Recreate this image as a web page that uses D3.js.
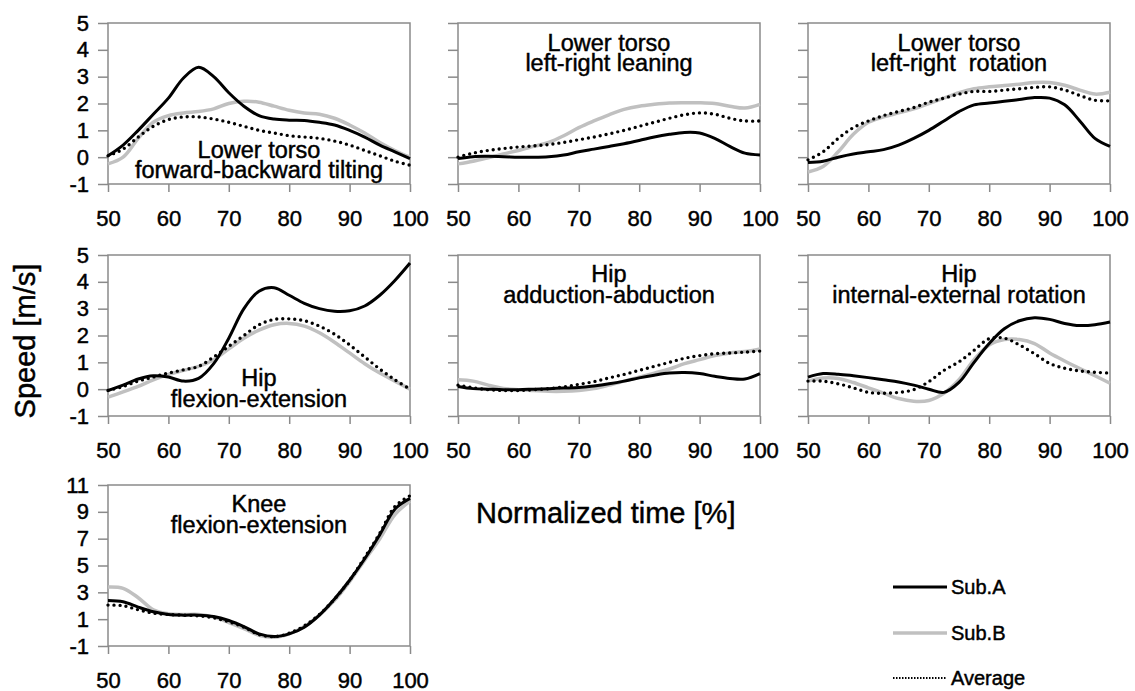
<!DOCTYPE html>
<html>
<head>
<meta charset="utf-8">
<script src="https://cdn.jsdelivr.net/npm/d3@7"></script>
<style>
  body { margin: 0; background: #fff; }
  svg { font-family: "Liberation Sans", Arial, sans-serif; }
  svg text { fill: #000; stroke: #000; stroke-width: 0.45px; }
  .frame { fill: none; stroke: #8a8a8a; stroke-width: 1.5px; }
  .tick line { stroke: #8a8a8a; stroke-width: 1.5px; }
  .tick text { font-size: 22px; }
  .title { font-size: 23.5px; text-anchor: middle; white-space: pre; }
</style>
</head>
<body>
<svg id="chart" width="1135" height="691"></svg>
<script>
// normalized time points
const times = [50, 52.5, 55, 57.5, 60, 62.5, 65, 67.5, 70, 72.5, 75, 77.5, 80, 82.5, 85, 87.5, 90, 92.5, 95, 97.5, 100];

// lower torso forward-backward tilting
const tiltA   = [0.05, 0.45, 1.0, 1.6, 2.2, 2.95, 3.35, 3.0, 2.4, 1.9, 1.55, 1.42, 1.38, 1.37, 1.3, 1.2, 1.0, 0.75, 0.45, 0.2, -0.05];
const tiltB   = [-0.25, 0.0, 0.7, 1.3, 1.55, 1.65, 1.7, 1.8, 2.0, 2.08, 2.05, 1.9, 1.75, 1.65, 1.6, 1.45, 1.2, 0.9, 0.55, 0.25, 0.0];
const tiltAvg = [0.05, 0.3, 0.75, 1.15, 1.4, 1.5, 1.5, 1.42, 1.3, 1.15, 1.0, 0.9, 0.8, 0.75, 0.7, 0.6, 0.45, 0.25, 0.05, -0.15, -0.3];

// lower torso left-right leaning
const leanA   = [-0.05, 0.02, 0.03, 0.02, 0.0, 0.0, 0.02, 0.08, 0.2, 0.3, 0.4, 0.5, 0.62, 0.75, 0.85, 0.92, 0.9, 0.7, 0.4, 0.15, 0.08];
const leanB   = [-0.25, -0.15, -0.02, 0.12, 0.25, 0.4, 0.55, 0.8, 1.1, 1.35, 1.58, 1.78, 1.9, 1.97, 2.02, 2.03, 2.03, 2.0, 1.9, 1.83, 1.97];
const leanAvg = [0.0, 0.15, 0.25, 0.32, 0.38, 0.42, 0.47, 0.55, 0.65, 0.75, 0.87, 1.0, 1.15, 1.3, 1.45, 1.58, 1.65, 1.6, 1.45, 1.35, 1.35];

// lower torso left-right rotation
const rotA   = [-0.2, -0.15, 0.0, 0.12, 0.2, 0.28, 0.45, 0.7, 1.0, 1.35, 1.7, 1.95, 2.02, 2.08, 2.15, 2.22, 2.2, 1.95, 1.35, 0.7, 0.4];
const rotB   = [-0.55, -0.35, 0.2, 0.85, 1.3, 1.5, 1.65, 1.8, 2.0, 2.2, 2.4, 2.55, 2.62, 2.67, 2.72, 2.78, 2.78, 2.68, 2.5, 2.35, 2.42];
const rotAvg = [-0.1, 0.2, 0.7, 1.1, 1.35, 1.55, 1.7, 1.85, 2.05, 2.2, 2.35, 2.45, 2.45, 2.5, 2.55, 2.6, 2.62, 2.5, 2.3, 2.12, 2.1];

// hip flexion-extension
const hipFlexA   = [-0.05, 0.15, 0.38, 0.5, 0.45, 0.3, 0.4, 0.95, 1.9, 3.0, 3.65, 3.78, 3.5, 3.2, 3.0, 2.9, 2.92, 3.1, 3.5, 4.05, 4.7];
const hipFlexB   = [-0.3, -0.1, 0.1, 0.35, 0.55, 0.7, 0.85, 1.1, 1.5, 1.9, 2.2, 2.4, 2.45, 2.35, 2.1, 1.75, 1.35, 0.95, 0.6, 0.3, 0.0];
const hipFlexAvg = [-0.05, 0.1, 0.3, 0.45, 0.6, 0.72, 0.85, 1.2, 1.6, 2.0, 2.4, 2.6, 2.62, 2.55, 2.35, 2.05, 1.65, 1.2, 0.75, 0.35, 0.0];

// hip adduction-abduction
const hipAddA   = [0.1, 0.02, 0.0, -0.02, -0.02, 0.0, 0.02, 0.04, 0.06, 0.12, 0.2, 0.3, 0.42, 0.52, 0.6, 0.62, 0.58, 0.48, 0.4, 0.38, 0.58];
const hipAddB   = [0.35, 0.3, 0.15, 0.03, -0.02, -0.05, -0.08, -0.08, -0.05, 0.02, 0.15, 0.3, 0.45, 0.6, 0.75, 0.95, 1.1, 1.25, 1.35, 1.4, 1.5];
const hipAddAvg = [0.15, 0.05, -0.02, -0.05, -0.05, -0.02, 0.02, 0.08, 0.18, 0.28, 0.42, 0.55, 0.7, 0.85, 1.0, 1.15, 1.25, 1.32, 1.35, 1.38, 1.42];

// hip internal-external rotation
const hipRotA   = [0.45, 0.58, 0.56, 0.5, 0.43, 0.35, 0.27, 0.15, 0.0, -0.12, 0.25, 1.0, 1.7, 2.25, 2.55, 2.66, 2.6, 2.45, 2.37, 2.4, 2.5];
const hipRotB   = [0.3, 0.42, 0.4, 0.25, 0.05, -0.15, -0.35, -0.45, -0.42, -0.15, 0.35, 1.1, 1.65, 1.85, 1.85, 1.7, 1.35, 1.05, 0.77, 0.5, 0.22];
const hipRotAvg = [0.3, 0.3, 0.2, 0.05, -0.12, -0.15, -0.12, -0.02, 0.28, 0.7, 1.02, 1.45, 1.88, 1.9, 1.65, 1.32, 0.96, 0.78, 0.68, 0.63, 0.6];

// knee flexion-extension
const kneeA   = [2.4, 2.3, 1.9, 1.55, 1.35, 1.3, 1.3, 1.2, 0.9, 0.45, -0.1, -0.3, -0.1, 0.4, 1.3, 2.5, 3.9, 5.5, 7.3, 9.2, 10.0];
const kneeB   = [3.4, 3.3, 2.6, 1.7, 1.4, 1.35, 1.35, 1.15, 0.75, 0.3, -0.2, -0.35, -0.1, 0.45, 1.3, 2.4, 3.8, 5.4, 7.0, 8.8, 9.8];
const kneeAvg = [2.05, 2.0, 1.7, 1.45, 1.35, 1.3, 1.25, 1.1, 0.8, 0.4, -0.15, -0.3, -0.05, 0.5, 1.35, 2.5, 3.9, 5.6, 7.4, 9.4, 10.2];

const xTicks = [50, 60, 70, 80, 90, 100];
const yTicksSmall = [-1, 0, 1, 2, 3, 4, 5];
const yTicksKnee = [-1, 1, 3, 5, 7, 9, 11];

const seriesNames = ["Sub.A", "Sub.B", "Average"];

const panels = [
  { title: ["Lower torso", "forward-backward tilting"], a: tiltA, b: tiltB, avg: tiltAvg, col: 0, row: 0, ticks: yTicksSmall, titleY: [135, 155] },
  { title: ["Lower torso", "left-right leaning"], a: leanA, b: leanB, avg: leanAvg, col: 1, row: 0, ticks: yTicksSmall, titleY: [28, 48] },
  { title: ["Lower torso", "left-right  rotation"], a: rotA, b: rotB, avg: rotAvg, col: 2, row: 0, ticks: yTicksSmall, titleY: [28, 48] },
  { title: ["Hip", "flexion-extension"], a: hipFlexA, b: hipFlexB, avg: hipFlexAvg, col: 0, row: 1, ticks: yTicksSmall, titleY: [131, 152] },
  { title: ["Hip", "adduction-abduction"], a: hipAddA, b: hipAddB, avg: hipAddAvg, col: 1, row: 1, ticks: yTicksSmall, titleY: [27, 48] },
  { title: ["Hip", "internal-external rotation"], a: hipRotA, b: hipRotB, avg: hipRotAvg, col: 2, row: 1, ticks: yTicksSmall, titleY: [27, 48] },
  { title: ["Knee", "flexion-extension"], a: kneeA, b: kneeB, avg: kneeAvg, col: 0, row: 2, ticks: yTicksKnee, titleY: [27, 48] }
];

const colLeft = [108, 458, 808];
const rowTop = [23, 255, 485];
const pw = 302, ph = 161;

const styles = {
  b:   { stroke: "#c0c0c0", width: 3.5, dash: null },
  a:   { stroke: "#000", width: 3, dash: null },
  avg: { stroke: "#000", width: 3.4, dash: "0 6" }
};

const svg = d3.select("#chart");

panels.forEach(p => {
  const g = svg.append("g").attr("transform", `translate(${colLeft[p.col]},${rowTop[p.row]})`);
  const x = d3.scaleLinear().domain([50, 100]).range([0, pw]);
  const y = d3.scaleLinear().domain([p.ticks[0], p.ticks[p.ticks.length - 1]]).range([ph, 0]);

  const xAxis = g.append("g").attr("transform", `translate(0,${ph})`)
    .call(d3.axisBottom(x).tickValues(xTicks).tickFormat(d => String(d))
      .tickSize(8).tickPadding(18).tickSizeOuter(0));
  xAxis.select(".domain").remove();

  const yAxis = g.append("g")
    .call(d3.axisLeft(y).tickValues(p.ticks).tickFormat(d => String(d))
      .tickSize(10).tickPadding(9).tickSizeOuter(0));
  yAxis.select(".domain").remove();
  if (p.col > 0) yAxis.selectAll("text").remove();

  g.append("rect").attr("class", "frame").attr("width", pw).attr("height", ph);

  const line = d3.line()
    .x((d, i) => x(times[i]))
    .y(d => y(d))
    .curve(d3.curveCatmullRom.alpha(0.5));

  ["b", "a", "avg"].forEach(k => {
    const s = styles[k];
    g.append("path")
      .datum(p[k])
      .attr("d", line)
      .attr("fill", "none")
      .attr("stroke", s.stroke)
      .attr("stroke-width", s.width)
      .attr("stroke-linecap", s.dash ? "round" : "butt")
      .attr("stroke-dasharray", s.dash);
  });

  g.selectAll("text.title")
    .data(p.title)
    .join("text")
    .attr("class", "title")
    .attr("x", pw / 2)
    .attr("y", (d, i) => p.titleY[i])
    .text(d => d);
});

// axis labels
svg.append("text")
  .attr("transform", "translate(35,341) rotate(-90)")
  .attr("text-anchor", "middle")
  .style("font-size", "29px")
  .text("Speed [m/s]");

svg.append("text")
  .attr("x", 476).attr("y", 523)
  .style("font-size", "29px")
  .text("Normalized time [%]");

// legend
const legend = svg.append("g").attr("transform", "translate(893,0)");
const legendKeys = ["a", "b", "avg"];
const legendY = [587, 633, 678];
legendKeys.forEach((k, i) => {
  const s = styles[k];
  legend.append("line")
    .attr("x1", 0).attr("x2", 54)
    .attr("y1", legendY[i]).attr("y2", legendY[i])
    .attr("stroke", s.stroke)
    .attr("stroke-width", k === "avg" ? 2 : s.width)
    .attr("stroke-dasharray", k === "avg" ? "1.5 1.5" : null);
  legend.append("text")
    .attr("x", 58).attr("y", legendY[i] + 7)
    .style("font-size", "20px")
    .text(seriesNames[i]);
});
</script>
</body>
</html>
